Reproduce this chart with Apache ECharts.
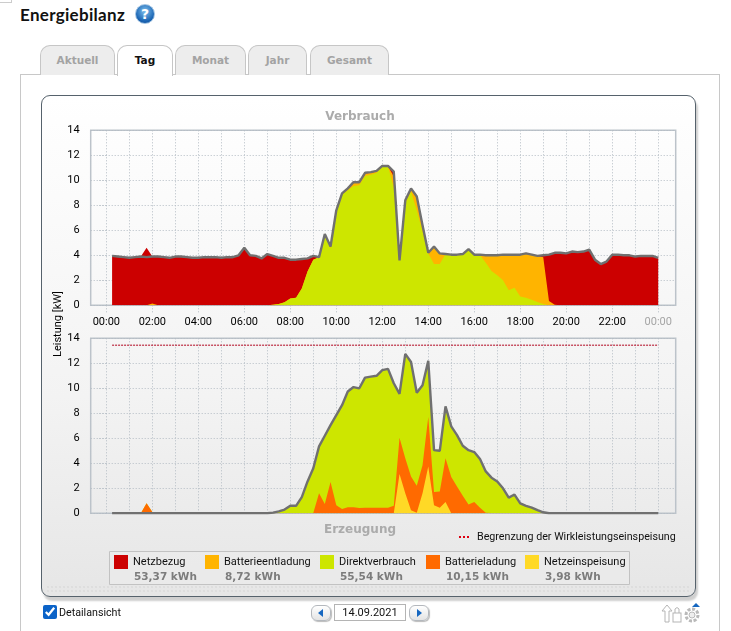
<!DOCTYPE html>
<html>
<head>
<meta charset="utf-8">
<title>Energiebilanz</title>
<script src="https://cdn.jsdelivr.net/npm/echarts@6/dist/echarts.min.js"></script>
<style>
    html, body { margin: 0; padding: 0; background: #fff; width: 731px; height: 631px; overflow: hidden; font-family: Roboto, sans-serif; }
    .abs { position: absolute; box-sizing: border-box; }
    #main { position: absolute; left: 0; top: 0; width: 731px; height: 631px; }
    .tab { position: absolute; box-sizing: border-box; top: 45px; height: 30px; background: #ededed; border: 1px solid #c6c6c6; border-bottom: none; border-radius: 10px 10px 0 0; text-align: center; font: bold 10.5px/29px "DejaVu Sans", sans-serif; color: #a3a3a3; }
    .tab.on { background: #fff; color: #111; height: 31px; z-index: 2; }
    .navbtn { position: absolute; box-sizing: border-box; top: 605px; width: 20px; height: 16px; border: 1px solid #b4b8bd; border-radius: 6px; background: linear-gradient(#fff, #e4e4e4); box-shadow: 1px 1px 1px #bbb; }
</style>
</head>
<body>
<div class="abs" style="left:-1px;top:-6px;width:13px;height:9px;border:1px solid #ccc;"></div>
<div class="abs" style="left:20px;top:3px;font:bold 17px/24px Lato,sans-serif;color:#111;letter-spacing:.3px;">Energiebilanz</div>
<div class="abs" style="left:135px;top:4px;width:20px;height:20px;border-radius:50%;background:radial-gradient(circle at 50% 35%,#7fc0ee,#1c66b4 65%,#0d4a94);border:1px solid #9fc2e2;color:#fff;font:bold 14px/18px 'DejaVu Sans',sans-serif;text-align:center;">?</div>

<div class="abs" style="left:20px;top:74px;width:700px;height:570px;border:1px solid #c8c8c8;"></div>
<div class="tab" style="left:40px;width:75px;">Aktuell</div>
<div class="tab on" style="left:117px;width:56px;">Tag</div>
<div class="tab" style="left:175px;width:71px;">Monat</div>
<div class="tab" style="left:248px;width:59px;">Jahr</div>
<div class="tab" style="left:310px;width:79px;">Gesamt</div>

<div class="abs" style="left:41px;top:95px;width:655px;height:502px;border:1px solid #56626c;border-radius:9px;background:linear-gradient(#ffffff 0,#f3f3f3 60%,#e6e6e6 100%);box-shadow:2px 4px 2px #cfcfcf;"></div>
<div class="abs" style="left:46px;top:585px;width:645px;height:9px;background-image:radial-gradient(#d2d2d2 .6px,transparent .8px);background-size:4px 4px;"></div>

<div id="main"></div>

<input type="checkbox" checked class="abs" style="left:43px;top:605px;width:14px;height:14px;margin:0;accent-color:#0b63c8;z-index:3;">
<div class="abs" style="left:59px;top:604px;font:10.7px/17px Roboto,sans-serif;color:#111;z-index:3;">Detailansicht</div>
<div class="navbtn" style="left:311px;z-index:3;"><div class="abs" style="left:6px;top:3px;border:4px solid transparent;border-left:0;border-right:5px solid #1667c0;"></div></div>
<div class="abs" style="left:334px;top:604px;width:72px;height:17px;border:1px solid #b4b4b4;background:#fff;font:11px/15px Roboto,sans-serif;color:#111;text-align:center;z-index:3;">14.09.2021</div>
<div class="navbtn" style="left:409px;z-index:3;"><div class="abs" style="left:7px;top:3px;border:4px solid transparent;border-right:0;border-left:5px solid #1667c0;"></div></div>
<svg class="abs" style="left:660px;top:602px;z-index:3;" width="44" height="24" viewBox="0 0 44 24">
    <path d="M2 9 L7 3 L12 9 H9 V20 H5 V9 Z" fill="#fff" stroke="#b5b5b5"/>
    <rect x="13" y="11" width="8" height="9" fill="#fff" stroke="#b5b5b5"/>
    <path d="M15 11 V7 Q17 4 19 7 V11" fill="none" stroke="#b5b5b5"/>
    <circle cx="32" cy="13" r="6" fill="none" stroke="#b9b9b9" stroke-width="3" stroke-dasharray="3 1.6"/>
    <circle cx="32" cy="13" r="3" fill="#eee" stroke="#b9b9b9"/>
    <path d="M32 5 L36 1 L40 5 Z" fill="#1667c0"/>
</svg>

<script type="text/javascript">
    // 15 minute slots, 00:15 .. 24:00
    var slots = [];
    for (var s = 1; s <= 96; s++) { slots.push(s / 4); }
    var hourTicks = [0, 1, 2, 3, 4, 5, 6, 7, 8, 9, 10, 11, 12, 13, 14, 15, 16, 17, 18, 19, 20, 21, 22, 23, 24];
    var labelTicks = [0, 2, 4, 6, 8, 10, 12, 14, 16, 18, 20, 22, 24];

    var legendNames = ['Netzbezug', 'Batterieentladung', 'Direktverbrauch', 'Batterieladung', 'Netzeinspeisung'];
    var legendValues = ['53,37 kWh', '8,72 kWh', '55,54 kWh', '10,15 kWh', '3,98 kWh'];
    var legendColors = ['#cc0000', '#ffb400', '#cde600', '#ff6a00', '#ffd926'];
    var limitName = 'Begrenzung der Wirkleistungseinspeisung';
    var limitX = [0.25, 24];
    var limitY = [13.45, 13.45];

    // Verbrauch
    var verbrauch = [
        3.95, 3.9, 3.85, 3.8, 3.85, 3.9, 3.85, 3.9, 3.9, 3.85, 3.8, 3.9, 3.9, 3.85, 3.8, 3.8,
        3.85, 3.85, 3.85, 3.8, 3.85, 3.85, 4.0, 4.6, 4.0, 3.95, 3.75, 4.1, 3.95, 3.8, 3.8, 3.65,
        3.65, 3.7, 3.75, 3.95, 3.85, 5.7, 4.7, 7.6, 8.95, 9.35, 9.85, 9.85, 10.6, 10.65, 10.75, 11.15,
        11.15, 10.7, 3.6, 8.4, 9.35, 8.7, 6.4, 4.2, 4.7, 4.15, 4.1, 4.05, 4.05, 4.1, 4.5, 4.05,
        4.05, 4.0, 4.0, 4.0, 4.05, 4.05, 4.05, 4.05, 4.15, 4.05, 3.95, 4.0, 4.05, 4.2, 4.2, 4.15,
        4.3, 4.25, 4.3, 4.45, 3.65, 3.3, 3.5, 4.05, 4.05, 4.0, 4.0, 3.9, 3.95, 3.95, 3.95, 3.8
    ];
    var direktVerbrauch = [
        0, 0, 0, 0, 0, 0, 0, 0, 0, 0, 0, 0, 0, 0, 0, 0,
        0, 0, 0, 0, 0, 0, 0, 0, 0, 0, 0, 0, 0.05, 0.1, 0.25, 0.55,
        0.6, 1.35, 2.7, 3.65, 3.85, 5.6, 4.6, 7.5, 8.85, 9.2, 9.55, 9.6, 10.35, 10.45, 10.6, 11.1,
        11.1, 9.4, 3.5, 8.2, 9.1, 7.6, 5.9, 4.15, 3.3, 3.3, 4.1, 4.05, 4.05, 4.1, 4.5, 4.05,
        4.0, 3.4, 2.75, 2.4, 2.0, 1.2, 1.4, 0.7, 0.6, 0.45, 0.27, 0.1, 0, 0, 0, 0,
        0, 0, 0, 0, 0, 0, 0, 0, 0, 0, 0, 0, 0, 0, 0, 0
    ];
    var entladung = [
        0, 0, 0, 0, 0, 0, 0, 0.15, 0, 0, 0, 0, 0, 0, 0, 0,
        0, 0, 0, 0, 0, 0, 0, 0, 0, 0, 0, 0, 0, 0, 0, 0,
        0, 0, 0, 0, 0, 0, 0, 0, 0.05, 0.1, 0.25, 0.2, 0.2, 0.15, 0.1, 0.03,
        0.03, 0.9, 0.1, 0.2, 0.25, 1.1, 0.5, 0.05, 1.4, 0.85, 0, 0, 0, 0, 0, 0,
        0.05, 0.6, 1.25, 1.6, 2.05, 2.85, 2.65, 3.35, 3.55, 3.6, 3.68, 3.75, 0.35, 0.05, 0, 0,
        0, 0, 0, 0, 0, 0, 0, 0, 0, 0, 0, 0, 0, 0, 0, 0
    ];
    var netzbezug = [
        3.95, 3.9, 3.85, 3.8, 3.85, 3.9, 4.6, 3.75, 3.9, 3.85, 3.8, 3.9, 3.9, 3.85, 3.8, 3.8,
        3.85, 3.85, 3.85, 3.8, 3.85, 3.85, 4.0, 4.6, 4.0, 3.95, 3.75, 4.1, 3.9, 3.7, 3.55, 3.1,
        3.05, 2.35, 1.05, 0.3, 0, 0.1, 0.1, 0.1, 0.05, 0.05, 0.05, 0.05, 0.05, 0.05, 0.05, 0.02,
        0.02, 0.4, 0, 0, 0, 0, 0, 0, 0, 0, 0, 0, 0, 0, 0, 0,
        0, 0, 0, 0, 0, 0, 0, 0, 0, 0, 0, 0.15, 3.7, 4.15, 4.2, 4.15,
        4.3, 4.25, 4.3, 4.45, 3.65, 3.3, 3.5, 4.05, 4.05, 4.0, 4.0, 3.9, 3.95, 3.95, 3.95, 3.8
    ];

    // Erzeugung
    var erzeugung = [
        0, 0, 0, 0, 0, 0, 0, 0, 0, 0, 0, 0, 0, 0, 0, 0,
        0, 0, 0, 0, 0, 0, 0, 0, 0, 0, 0, 0, 0.05, 0.15, 0.3, 0.6,
        0.6, 1.3, 2.55, 3.6, 5.35, 6.2, 7.05, 7.85, 8.65, 9.75, 10.1, 10.0, 10.85, 10.93, 11.0, 11.45,
        11.55, 10.4, 9.55, 12.75, 12.1, 9.65, 10.25, 12.2, 5.05, 5.0, 8.55, 6.95, 6.25, 5.4, 5.05, 4.9,
        4.35, 3.35, 2.85, 2.55, 2.0, 1.25, 1.5, 0.8, 0.6, 0.45, 0.25, 0.08, 0, 0, 0, 0,
        0, 0, 0, 0, 0, 0, 0, 0, 0, 0, 0, 0, 0, 0, 0, 0
    ];
    var einspeisung = [
        0, 0, 0, 0, 0, 0, 0, 0, 0, 0, 0, 0, 0, 0, 0, 0,
        0, 0, 0, 0, 0, 0, 0, 0, 0, 0, 0, 0, 0, 0, 0, 0,
        0, 0, 0, 0, 0, 0, 0, 0, 0, 0, 0, 0, 0, 0, 0, 0,
        0, 0, 3.15, 1.6, 0.25, 0.05, 1.6, 3.75, 0.65, 0.45, 0.9, 0, 0, 0, 0, 0,
        0, 0, 0, 0, 0, 0, 0, 0, 0, 0, 0, 0, 0, 0, 0, 0,
        0, 0, 0, 0, 0, 0, 0, 0, 0, 0, 0, 0, 0, 0, 0, 0
    ];
    var ladung = [
        0, 0, 0, 0, 0, 0, 0.8, 0.1, 0, 0, 0, 0, 0, 0, 0, 0,
        0, 0, 0, 0, 0, 0, 0, 0, 0, 0, 0, 0, 0.02, 0.02, 0.02, 0.02,
        0.02, 0.02, 0.02, 0.02, 1.6, 0.75, 2.5, 0.65, 0.35, 0.48, 0.48, 0.42, 0.45, 0.45, 0.45, 0.45,
        0.45, 0.6, 2.9, 2.8, 2.7, 2.15, 2.25, 3.95, 1.05, 1.3, 3.5, 2.9, 2.15, 1.4, 0.7, 0.9,
        0.45, 0.05, 0.03, 0.03, 0.03, 0.03, 0.03, 0.03, 0.03, 0.03, 0.03, 0.03, 0, 0, 0, 0,
        0, 0, 0, 0, 0, 0, 0, 0, 0, 0, 0, 0, 0, 0, 0, 0.02
    ];
    var direktErzeugung = [
        0, 0, 0, 0, 0, 0, 0, 0, 0, 0, 0, 0, 0, 0, 0, 0,
        0, 0, 0, 0, 0, 0, 0, 0, 0, 0, 0, 0, 0.03, 0.13, 0.28, 0.58,
        0.58, 1.28, 2.53, 3.58, 3.75, 5.45, 4.55, 7.2, 8.3, 9.27, 9.62, 9.58, 10.4, 10.48, 10.55, 11.0,
        11.1, 9.8, 3.5, 8.35, 9.15, 7.45, 6.4, 4.5, 3.35, 3.25, 4.15, 4.05, 4.1, 4.0, 4.35, 4.0,
        3.9, 3.3, 2.82, 2.52, 1.97, 1.22, 1.47, 0.77, 0.57, 0.42, 0.22, 0.05, 0, 0, 0, 0,
        0, 0, 0, 0, 0, 0, 0, 0, 0, 0, 0, 0, 0, 0, 0, 0
    ];

    var uiFont = 'Roboto, sans-serif';
    var gridLine = { show: true, lineStyle: { color: '#b4bcc4', type: [1, 2], width: 1 } };
    var xMin = -0.68, xMax = 24.76;

    var pairs = function (values) {
        return values.map(function (v, i) { return [slots[i], v]; });
    };

    // stack option only works on y with a category or time x axis, so add up by hand
    var addUp = function (lower, values) {
        return values.map(function (v, i) { return lower[i] + v; });
    };

    var area = function (name, color, values, xIdx) {
        return {
            name: name,
            type: 'line',
            xAxisIndex: xIdx,
            yAxisIndex: xIdx,
            symbol: 'none',
            lineStyle: { width: 0 },
            itemStyle: { color: color },
            areaStyle: { color: color, opacity: 1 },
            z: 2,
            data: pairs(values)
        };
    };

    var totalLine = function (name, values, xIdx) {
        return {
            name: name,
            type: 'line',
            xAxisIndex: xIdx,
            yAxisIndex: xIdx,
            symbol: 'none',
            lineStyle: { color: '#707070', width: 2.4 },
            z: 4,
            data: pairs(values)
        };
    };

    var hourAxis = function (gridIdx) {
        return {
            type: 'value',
            gridIndex: gridIdx,
            min: xMin,
            max: xMax,
            axisLine: { show: false },
            axisTick: { show: false, customValues: hourTicks },
            axisLabel: { show: false, customValues: hourTicks },
            splitLine: gridLine
        };
    };

    var kwAxis = function (gridIdx) {
        return {
            type: 'value',
            gridIndex: gridIdx,
            min: 0,
            max: 14,
            interval: 2,
            axisLine: { show: false },
            axisTick: { show: true, length: 8, lineStyle: { color: '#b4bcc4', type: [1, 2] } },
            axisLabel: { color: '#000', fontFamily: uiFont, fontSize: 11, margin: 11, padding: [2, 0, 0, 0] },
            splitLine: gridLine
        };
    };

    var legends = legendNames.map(function (name, i) {
        return {
            data: [name],
            left: [114, 205, 320, 426, 525][i],
            top: 555,
            padding: 0,
            itemWidth: 14,
            itemHeight: 14,
            icon: 'rect',
            selectedMode: false,
            textStyle: { color: '#111', fontFamily: uiFont, fontSize: 11 }
        };
    });
    legends.push({
        data: [limitName],
        left: 459,
        top: 530,
        padding: 0,
        itemWidth: 13,
        itemHeight: 14,
        icon: 'none',
        selectedMode: false,
        textStyle: { color: '#111', fontFamily: uiFont, fontSize: 10.7 }
    });

    var graphics = [
        {
            type: 'rect',
            z: 0,
            shape: { x: 109.5, y: 551.5, width: 520, height: 33 },
            style: { fill: 'rgba(255,255,255,0.12)', stroke: '#c2c2c2', lineWidth: 1 }
        },
        {
            // dots in front of the limit legend text
            type: 'line',
            shape: { x1: 459, y1: 537, x2: 469, y2: 537 },
            style: { stroke: '#dd0011', lineWidth: 2, lineDash: [2, 2] }
        },
        {
            type: 'text',
            x: 58,
            y: 324,
            rotation: Math.PI / 2,
            style: { text: 'Leistung [kW]', fill: '#000', font: '11px ' + uiFont, align: 'center', verticalAlign: 'middle' }
        }
    ];
    legendValues.forEach(function (val, i) {
        graphics.push({
            type: 'text',
            x: [134, 225, 340, 446, 545][i],
            y: 577,
            style: { text: val, fill: '#7c7c7c', font: 'bold 10.5px "DejaVu Sans", sans-serif', verticalAlign: 'middle' }
        });
    });

    var verbrauchMid = addUp(direktVerbrauch, entladung);
    var verbrauchTop = addUp(verbrauchMid, netzbezug);
    var erzeugungMid = addUp(einspeisung, ladung);
    var erzeugungTop = addUp(erzeugungMid, direktErzeugung);

    var myChart = echarts.init(document.getElementById('main'), null, { renderer: 'canvas' });

    var option = {
        animation: false,
        backgroundColor: 'transparent',
        title: [
            { text: 'Verbrauch', left: 360, top: 111, padding: 0, textAlign: 'center', textStyle: { color: '#ababab', fontFamily: 'DejaVu Sans', fontSize: 12, fontWeight: 'bold' } },
            { text: 'Erzeugung', left: 360, top: 524, padding: 0, textAlign: 'center', textStyle: { color: '#ababab', fontFamily: 'DejaVu Sans', fontSize: 12, fontWeight: 'bold' } }
        ],
        legend: legends,
        graphic: graphics,
        grid: [
            { left: 90.7, top: 130.3, width: 585, height: 175, show: true, borderColor: '#bcc3ca', borderWidth: 1.5, backgroundColor: 'transparent' },
            { left: 90.7, top: 338.3, width: 585, height: 175, show: true, borderColor: '#bcc3ca', borderWidth: 1.5, backgroundColor: 'transparent' }
        ],
        xAxis: [
            hourAxis(0),
            hourAxis(1),
            {
                // labelled axis of the upper chart, ticks only every 2 hours
                type: 'value',
                gridIndex: 0,
                position: 'bottom',
                min: xMin,
                max: xMax,
                axisLine: { show: false },
                axisTick: { show: true, length: 7, customValues: labelTicks, lineStyle: { color: '#b4bcc4', type: [1, 2] } },
                axisLabel: {
                    show: true,
                    customValues: labelTicks,
                    margin: 11,
                    fontFamily: uiFont,
                    fontSize: 11,
                    color: '#000',
                    formatter: function (v) {
                        if (v === 24) { return '{last|00:00}'; }
                        return (v < 10 ? '0' : '') + v + ':00';
                    },
                    rich: { last: { color: '#a5a5a5', fontFamily: uiFont, fontSize: 11 } }
                },
                splitLine: { show: false }
            }
        ],
        yAxis: [kwAxis(0), kwAxis(1)],
        series: [
            // tallest layer first, each lower layer paints over it
            area(legendNames[0], legendColors[0], verbrauchTop, 0),
            area(legendNames[1], legendColors[1], verbrauchMid, 0),
            area(legendNames[2], legendColors[2], direktVerbrauch, 0),
            totalLine('Verbrauch', verbrauch, 0),
            area(legendNames[2], legendColors[2], erzeugungTop, 1),
            area(legendNames[3], legendColors[3], erzeugungMid, 1),
            area(legendNames[4], legendColors[4], einspeisung, 1),
            totalLine('Erzeugung', erzeugung, 1),
            {
                name: limitName,
                type: 'line',
                xAxisIndex: 1,
                yAxisIndex: 1,
                symbol: 'none',
                lineStyle: { color: '#b0001c', type: [2, 1], width: 1 },
                z: 5,
                data: limitX.map(function (x, i) { return [x, limitY[i]]; })
            }
        ]
    };
    myChart.setOption(option);
</script>
</body>
</html>
